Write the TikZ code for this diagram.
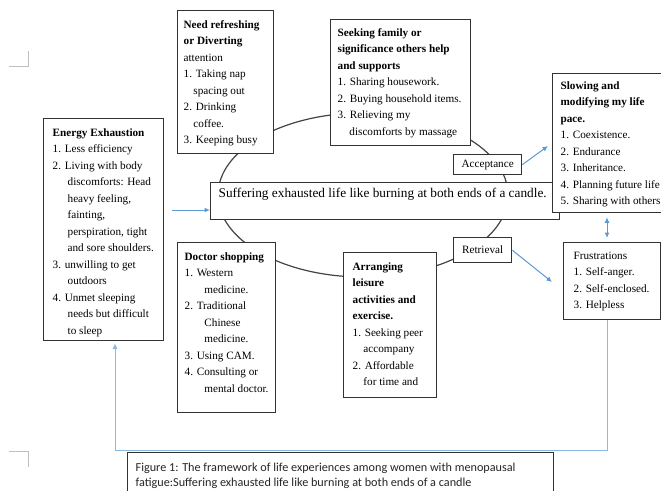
\documentclass[tikz,border=0pt]{standalone}
\usepackage{fontspec}
\setmainfont{Liberation Serif}
\newfontfamily\capfont{Carlito}
\usetikzlibrary{arrows.meta,calc}
\definecolor{FrameGray}{HTML}{333333}
\definecolor{RingGray}{HTML}{444444}
\definecolor{LinkBlue}{HTML}{5B9BD5}
\definecolor{MarkGray}{HTML}{BFBFBF}
\newcommand{\boxfont}{\fontsize{11.2}{16.5}\selectfont}
\newcommand{\boxtext}[3]{\parbox[t][#2][t]{#1}{\raggedright\strut#3}}
\newcommand{\ind}[1][15]{\hspace*{#1pt}}

\begin{document}
\begin{tikzpicture}[x=1pt, y=-1pt,
    box/.style={draw=FrameGray, fill=white, line width=1.3pt, anchor=north west, inner ysep=6pt, font=\boxfont},
    tag/.style={draw=FrameGray, fill=white, line width=1.3pt, anchor=north west, inner sep=0pt, font=\boxfont},
    ring/.style={draw=RingGray, line width=1.2pt},
    arr/.style={-{Latex[length=5.5pt,width=5pt]}, draw=LinkBlue, line width=1pt},
    dbl/.style={{Latex[length=5.5pt,width=5pt]}-{Latex[length=5.5pt,width=5pt]}, draw=LinkBlue, line width=1pt},
    cropmark/.style={draw=MarkGray, line width=0.8pt}
  ]
    \useasboundingbox (0,0) rectangle (661,490);
    \clip (0,0) rectangle (661,490);
    \fill[white] (0,0) rectangle (661,490);

    % page corner marks
    \draw[cropmark] (9,66) -- (28,66) -- (28,51);
    \draw[cropmark] (9,451) -- (28,451) -- (28,467);

    % cycle behind the boxes
    \draw[ring] (363,195) ellipse [x radius=145, y radius=82];

    % left column
    \node[box, inner xsep=9pt] (energy) at (43,118) {\boxtext{102pt}{210pt}{\textbf{Energy Exhaustion}\\
      1. Less efficiency\\
      2. Living with body\\
      \ind discomforts: Head\\
      \ind heavy feeling,\\
      \ind fainting,\\
      \ind perspiration, tight\\
      \ind and sore shoulders.\\
      3. unwilling to get\\
      \ind outdoors\\
      4. Unmet sleeping\\
      \ind needs but difficult\\
      \ind to sleep}};

    % strategies round the cycle
    \node[box, inner xsep=6pt] (refresh) at (177,10) {\boxtext{84pt}{131pt}{\textbf{Need refreshing}\\
      \textbf{or Diverting}\\
      attention\\
      1. Taking nap\\
      \ind[7] spacing out\\
      2. Drinking\\
      \ind[7] coffee.\\
      3. Keeping busy}};
    \node[box, inner xsep=7pt, inner ysep=5pt] (support) at (330,19) {\boxtext{126pt}{116pt}{\textbf{Seeking family or}\\
      \textbf{significance others help}\\
      \textbf{and supports}\\
      1. Sharing housework.\\
      2. Buying household items.\\
      3. Relieving my\\
      \ind[9] discomforts by massage}};
    \node[box, inner xsep=7pt] (doctor) at (177,242) {\boxtext{84pt}{158pt}{\textbf{Doctor shopping}\\
      1. Western\\
      \ind[17] medicine.\\
      2. Traditional\\
      \ind[17] Chinese\\
      \ind[17] medicine.\\
      3. Using CAM.\\
      4. Consulting or\\
      \ind[17] mental doctor.}};
    \node[box, inner xsep=9pt] (leisure) at (343,252) {\boxtext{75pt}{133pt}{\textbf{Arranging}\\
      \textbf{leisure}\\
      \textbf{activities and}\\
      \textbf{exercise.}\\
      1. Seeking peer\\
      \ind[8] accompany\\
      2. Affordable\\
      \ind[8] for time and}};

    % core theme
    \node[box, inner xsep=8pt, inner ysep=4pt, font=\fontsize{13.3}{16}\selectfont] (centre) at (210,182) {\boxtext{333pt}{29pt}{Suffering exhausted life like burning at both ends of a candle.}};

    % turning points
    \node[tag, minimum width=68pt, minimum height=20pt] (accept) at (453,154) {Acceptance};
    \node[tag, minimum width=58pt, minimum height=25pt] (retrieve) at (453,237) {Retrieval};

    % outcomes
    \node[box, inner xsep=8pt, inner ysep=4pt] (slow) at (552,73) {\boxtext{112pt}{131pt}{\textbf{Slowing and}\\
      \textbf{modifying my life}\\
      \textbf{pace.}\\
      1. Coexistence.\\
      2. Endurance\\
      3. Inheritance.\\
      4. Planning future life\\
      5. Sharing with others}};
    \node[box, inner xsep=10pt, inner ysep=5pt] (frust) at (563,242) {\boxtext{77pt}{67pt}{Frustrations\\
      1. Self-anger.\\
      2. Self-enclosed.\\
      3. Helpless}};

    % caption
    \node[box, inner xsep=8pt, inner ysep=8pt, font=\capfont\fontsize{12.2}{15}\selectfont, text=black!85] (caption) at (127,452) {\boxtext{410pt}{40pt}{Figure 1: The framework of life experiences among women with menopausal\\
      fatigue:Suffering exhausted life like burning at both ends of a candle}};

    % links
    \coordinate (feed) at (172,210);
    \coordinate (fbR) at (607,450);
    \coordinate (fbL) at (115,450);
    \draw[arr] (feed) -- (centre.west |- feed);
    \draw[arr] (accept.east) -- ([shift={(-4,73)}]slow.north west);
    \draw[arr] (retrieve.east) -- ([shift={(-11,40)}]frust.north west);
    \draw[dbl, shorten <=4pt, shorten >=4pt] (slow.south -| fbR) -- (frust.north -| fbR);
    \draw[arr, draw=LinkBlue!70] (frust.south -| fbR) -- (fbR) -- (fbL) -- ([yshift=-2pt]energy.south -| fbL);
  \end{tikzpicture}
\end{document}
